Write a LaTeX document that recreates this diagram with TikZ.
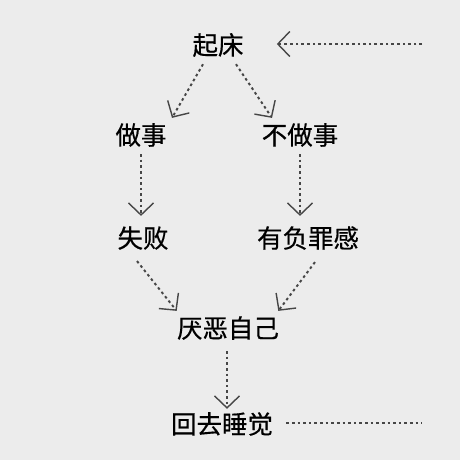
\documentclass[tikz,border=0pt]{standalone}
\usepackage{fontspec}
\newfontfamily\cjk[UprightFeatures={FakeBold=0.5}]{Noto Sans CJK SC}
\usetikzlibrary{arrows.meta}
\definecolor{paper}{RGB}{236,236,236}
\definecolor{dots}{RGB}{70,70,70}
\tikzstyle{word}=[inner sep=0pt, text=black, font=\cjk\fontsize{14.5}{16}\selectfont]
\tikzstyle{trail}=[draw=dots, line width=1.1pt, dash pattern=on 1.5pt off 1.7pt]
\tikzstyle{arrow}=[trail, -{Straight Barb[length=2.4mm, width=5mm, line width=0.8pt]}]

\begin{document}
\begin{tikzpicture}[x=0.02cm, y=-0.02cm]
		   \fill[paper] (0, 0) rectangle (460, 460);
		   \node (qc) at (218, 45)[word] {起床};
		   \node (zs) at (141, 135)[word] {做事};
		   \node (bzs) at (300, 135)[word] {不做事};
		   \node (sb) at (143, 238)[word] {失败};
		   \node (yf) at (308, 238)[word] {有负罪感};
		   \node (yw) at (228, 328)[word] {厌恶自己};
		   \node (hq) at (222, 424)[word] {回去睡觉};
		   \coordinate (top) at (422, 44);
		   \coordinate (bot) at (422, 423);
		   % down the two branches
		   \draw[arrow] ([shift={(-15, 7)}]qc.south) -- ([shift={(31, -5)}]zs.north);
		   \draw[arrow] ([shift={(18, 7)}]qc.south) -- ([shift={(-28, -5)}]bzs.north);
		   \draw[arrow] ([shift={(0, 7)}]zs.south) -- ([shift={(-2, -10)}]sb.north);
		   \draw[arrow] ([shift={(0, 7)}]bzs.south) -- ([shift={(-8, -10)}]yf.north);
		   \draw[arrow] ([shift={(-6, 11)}]sb.south) -- ([shift={(0, -5)}]yw.north west);
		   \draw[arrow] ([shift={(7, 12)}]yf.south) -- ([shift={(-1, -5)}]yw.north east);
		   \draw[arrow] ([shift={(-1, 11)}]yw.south) -- ([shift={(5, -3)}]hq.north);
		   % back to the start
		   \draw[trail] ([shift={(13, -1)}]hq.east) -- (bot);
		   \draw[arrow] (top) -- ([shift={(33, -1)}]qc.east);
	   \end{tikzpicture}
\end{document}
